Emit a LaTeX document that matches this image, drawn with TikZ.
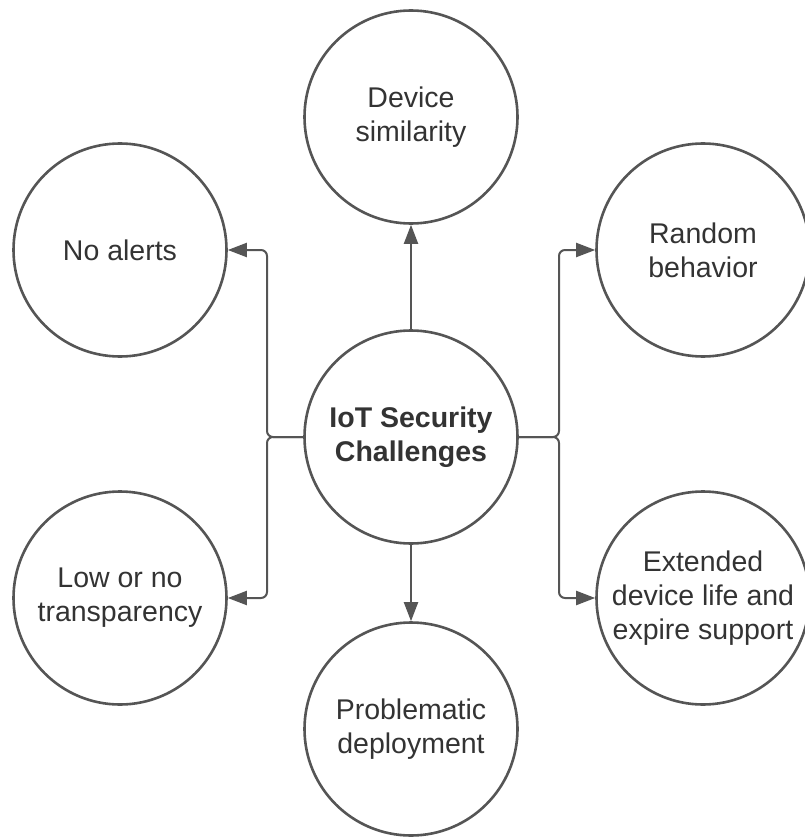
\documentclass[tikz,border=0pt]{standalone}
\usepackage{fontspec}
\setmainfont{Liberation Sans}
\usetikzlibrary{arrows.meta}
\definecolor{linegray}{HTML}{555555}
\definecolor{textgray}{HTML}{333333}
\begin{document}
\begin{tikzpicture}[x=1pt,y=-1pt,
  bubble/.style={circle, draw=linegray, line width=2.6pt, minimum size=213pt, inner sep=0pt,
    align=center, text=textgray, font=\fontsize{28.5}{34}\selectfont},
  link/.style={draw=linegray, line width=2pt, rounded corners=6pt,
    -{Triangle[length=19pt,width=14pt]}}]
\useasboundingbox (0,0) rectangle (804,837);
\node[bubble] (c)  at (411,437) {\bfseries IoT Security\\\bfseries Challenges};
\node[bubble] (ds) at (411,117) {Device\\similarity};
\node[bubble] (na) at (120,250) {No alerts};
\node[bubble] (rb) at (703,250) {Random\\behavior};
\node[bubble] (lt) at (120,598) {Low or no\\transparency};
\node[bubble] (ed) at (703,598) {Extended\\device life and\\expire support};
\node[bubble] (pd) at (411,729) {Problematic\\deployment};
\draw[link] (c.north) -- (ds.south);
\draw[link] (c.south) -- (pd.north);
\draw[link] (c.west) -- (267,437) |- (na.east);
\draw[link] (c.west) -- (267,437) |- (lt.east);
\draw[link] (c.east) -- (559,437) |- (rb.west);
\draw[link] (c.east) -- (559,437) |- (ed.west);
\end{tikzpicture}
\end{document}
